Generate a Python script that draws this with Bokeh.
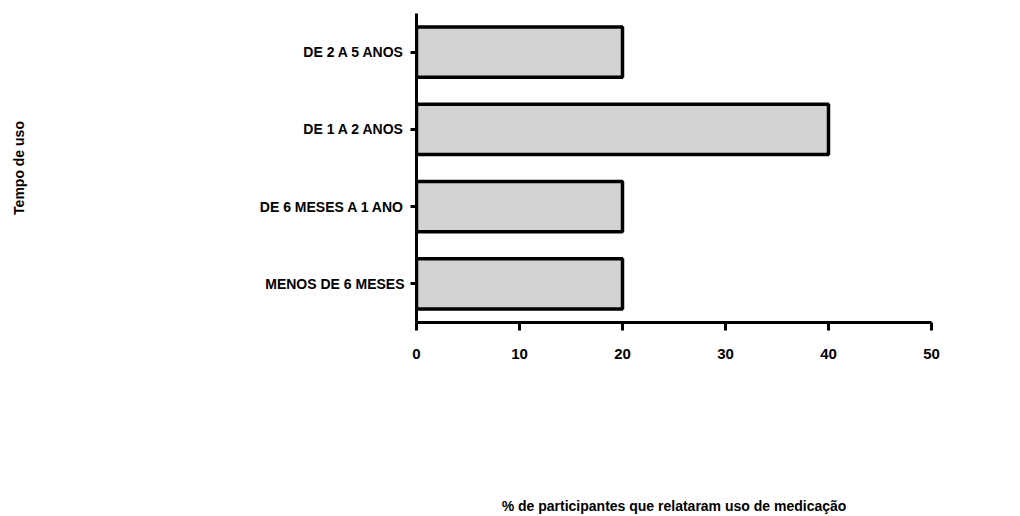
from bokeh.plotting import figure
from bokeh.models import FactorRange, Range1d, FixedTicker
from bokeh.embed import file_html
from bokeh.resources import INLINE

categories = ["MENOS DE 6 MESES", "DE 6 MESES A 1 ANO", "DE 1 A 2 ANOS", "DE 2 A 5 ANOS"]
values = [20, 20, 40, 20]
x_ticks = [0, 10, 20, 30, 40, 50]
x_title = "% de participantes que relataram uso de medicação"
y_title = "Tempo de uso"

FONT = "Liberation Sans"

p = figure(width=1020, height=516, output_backend="svg", toolbar_location=None,
           y_range=FactorRange(factors=categories, range_padding=0),
           x_range=Range1d(0, 50))
p.min_border_left = 416
p.min_border_right = 89
p.min_border_top = 13
p.min_border_bottom = 0
p.outline_line_color = None
p.xgrid.grid_line_color = None
p.ygrid.grid_line_color = None

p.hbar(y=categories, right=values, left=0, height=0.65,
       fill_color="#d3d3d3", line_color="black", line_width=3.5)

xa = p.xaxis[0]
xa.ticker = FixedTicker(ticks=x_ticks)
xa.axis_line_width = 3
xa.major_tick_line_width = 3
xa.major_tick_out = 8
xa.major_tick_in = 0
xa.minor_tick_line_color = None
xa.major_label_text_font = FONT
xa.major_label_text_font_style = "bold"
xa.major_label_text_font_size = "15px"
xa.major_label_text_color = "black"
xa.major_label_standoff = 18
xa.axis_label = x_title
xa.axis_label_text_font = FONT
xa.axis_label_text_font_style = "bold"
xa.axis_label_text_font_size = "14px"
xa.axis_label_text_color = "black"
xa.axis_label_standoff = 136

ya = p.yaxis[0]
ya.axis_line_width = 3
ya.major_tick_line_width = 3
ya.major_tick_out = 6
ya.major_tick_in = 0
ya.minor_tick_line_color = None
ya.major_label_text_font = FONT
ya.major_label_text_font_style = "bold"
ya.major_label_text_font_size = "14px"
ya.major_label_text_color = "black"
ya.major_label_standoff = 6
ya.axis_label = y_title
ya.axis_label_text_font = FONT
ya.axis_label_text_font_style = "bold"
ya.axis_label_text_font_size = "14px"
ya.axis_label_text_color = "black"
ya.axis_label_standoff = 230

open("out.html", "w").write(file_html(p, INLINE))
